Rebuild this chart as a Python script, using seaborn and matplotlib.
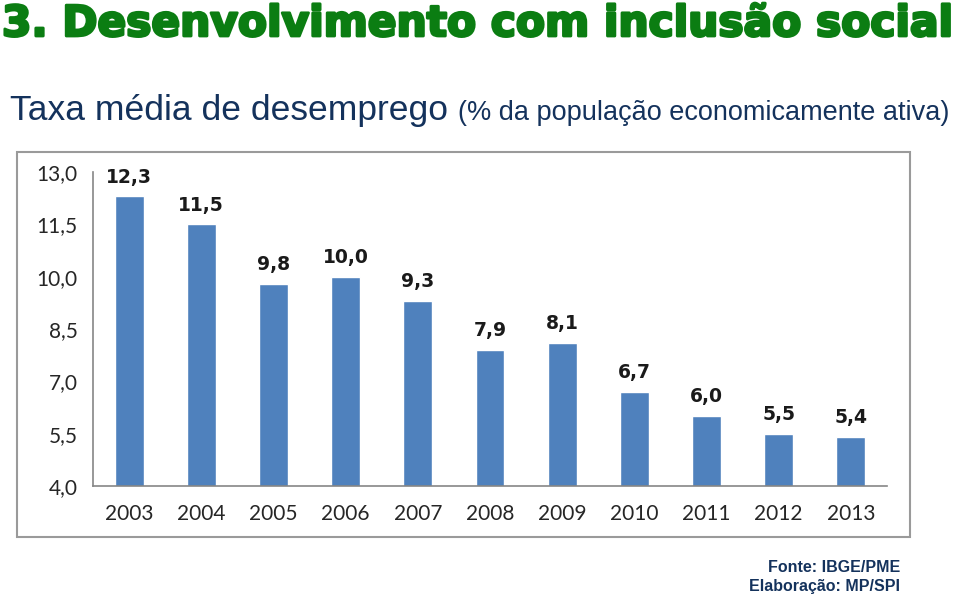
import matplotlib
matplotlib.use("Agg")
import matplotlib.pyplot as plt
import matplotlib.patheffects as pe
import numpy as np
import pandas as pd
import seaborn as sns
from matplotlib.patches import Rectangle

# ── data ────────────────────────────────────────────────────────────────────
anos = ["2003", "2004", "2005", "2006", "2007", "2008", "2009",
        "2010", "2011", "2012", "2013"]
taxa = [12.3, 11.5, 9.8, 10.0, 9.3, 7.9, 8.1, 6.7, 6.0, 5.5, 5.4]
yticks = [4.0, 5.5, 7.0, 8.5, 10.0, 11.5, 13.0]

df = pd.DataFrame({"ano": anos, "taxa": taxa})

sns.set_style("white")
plt.rcParams["font.family"] = ["Liberation Sans", "DejaVu Sans"]

fig = plt.figure(figsize=(9.6, 5.97), dpi=100)
W, H = 960, 597

# chart frame
fig.patches.append(Rectangle((17 / W, 1 - 537 / H), (910 - 17) / W, (537 - 152) / H,
                             transform=fig.transFigure, fill=False,
                             edgecolor="#9a9a9a", linewidth=1.5))

ax = fig.add_axes([93 / W, 1 - 486 / H, (887 - 93) / W, (486 - 172) / H])
sns.barplot(data=df, x="ano", y="taxa", color="#4f81bd", saturation=1,
            width=0.4, ax=ax)

ax.set_xlim(-0.5, len(anos) - 0.5)
ax.set_ylim(4.0, 13.0)
ax.set_yticks(yticks)
ax.set_yticklabels([f"{v:.1f}".replace(".", ",") for v in yticks])
ax.set_xticks(np.arange(-0.5, len(anos)), minor=True)
ax.tick_params(axis="x", which="major", length=0, pad=13, labelsize=15,
               labelcolor="#262626")
ax.tick_params(axis="x", which="minor", length=6, color="#868686", direction="out")
ax.tick_params(axis="y", length=6, color="#868686", direction="out",
               labelsize=15, labelcolor="#262626", pad=5)
for lbl in ax.get_xticklabels() + ax.get_yticklabels():
    lbl.set_family("Lato")
for side in ["top", "right"]:
    ax.spines[side].set_visible(False)
for side in ["left", "bottom"]:
    ax.spines[side].set_color("#868686")
    ax.spines[side].set_linewidth(1.2)
ax.set_xlabel("")
ax.set_ylabel("")

# value labels
for i, v in enumerate(taxa):
    ax.annotate(f"{v:.1f}".replace(".", ","), (i, v), xytext=(0, 7),
                textcoords="offset points", ha="center", va="bottom",
                fontsize=13.5, fontweight="bold", color="#1a1a1a",
                family="DejaVu Sans")

# titles
fig.text(2 / W, 1 - 36 / H, "3. Desenvolvimento com inclusão social",
         fontsize=30.5, fontweight="bold", color="#0b7d12", va="baseline",
         ha="left", family="DejaVu Sans",
         path_effects=[pe.withStroke(linewidth=2.0, foreground="#0b7d12")])
fig.text(10 / W, 1 - 120 / H, "Taxa média de desemprego",
         fontsize=25.5, color="#14325c", va="baseline", ha="left")
fig.text(949 / W, 1 - 120 / H, "(% da população economicamente ativa)",
         fontsize=19.5, color="#14325c", va="baseline", ha="right")

# source
fig.text(900 / W, 1 - 567 / H, "Fonte: IBGE/PME", fontsize=11.5,
         fontweight="bold", color="#14325c", va="center", ha="right")
fig.text(900 / W, 1 - 587 / H, "Elaboração: MP/SPI", fontsize=11.5,
         fontweight="bold", color="#14325c", va="center", ha="right")

fig.savefig("out.png", dpi=100)
